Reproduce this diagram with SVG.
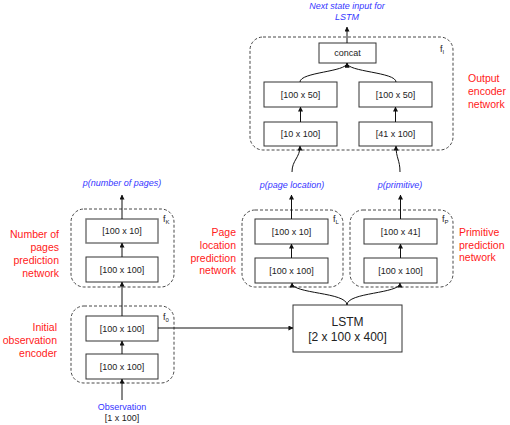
<svg xmlns="http://www.w3.org/2000/svg" width="510" height="425" viewBox="0 0 510 425">
<defs>
<marker id="ah" viewBox="0 0 6 6" refX="5.5" refY="3" markerWidth="5" markerHeight="5" orient="auto" markerUnits="userSpaceOnUse">
<path d="M0,0 L6,3 L0,6 z" fill="#111"/>
</marker>
</defs>
<style>
.grp{fill:none;stroke:#333;stroke-width:0.9;stroke-dasharray:3,2}
.box{fill:#fff;stroke:#333;stroke-width:1}
.bt{font-family:"Liberation Sans",Arial,sans-serif;font-size:9px;fill:#222;text-anchor:middle}
.red{font-family:"Liberation Sans",Arial,sans-serif;font-size:10.5px;fill:#ff2020}
.blue{font-family:"Liberation Sans",Arial,sans-serif;font-size:9px;font-style:italic;fill:#3535ff;text-anchor:middle}
.fl{font-family:"Liberation Sans",Arial,sans-serif;font-size:9px;fill:#222}
.fs{font-size:6px}
.c{fill:none;stroke:#111;stroke-width:1}
</style>
<rect width="510" height="425" fill="#fff"/>

<g id="output-encoder">
<rect class="grp" x="250" y="37" width="203" height="113" rx="13"/>
<text class="fl" x="440" y="52">f<tspan class="fs" dy="2">I</tspan></text>
<text class="red" x="468" y="82">Output</text>
<text class="red" x="468" y="95">encoder</text>
<text class="red" x="468" y="108">network</text>
</g>
<g id="concat"><rect class="box" x="319" y="43" width="57" height="20"/><text class="bt" x="347.5" y="56">concat</text></g>
<g id="enc-l2"><rect class="box" x="264" y="82" width="73" height="25"/><text class="bt" x="300.5" y="98">[100 x 50]</text></g>
<g id="enc-r2"><rect class="box" x="359" y="82" width="73" height="25"/><text class="bt" x="395.5" y="98">[100 x 50]</text></g>
<g id="enc-l1"><rect class="box" x="264" y="122" width="73" height="24"/><text class="bt" x="300.5" y="137">[10 x 100]</text></g>
<g id="enc-r1"><rect class="box" x="359" y="122" width="73" height="24"/><text class="bt" x="395.5" y="137">[41 x 100]</text></g>
<g id="next-state">
<text class="blue" x="347" y="9">Next state input for</text>
<text class="blue" x="347" y="20">LSTM</text>
</g>

<g id="pages-net">
<rect class="grp" x="71" y="209" width="103" height="78" rx="13"/>
<text class="fl" x="163" y="222">f<tspan class="fs" dy="2">K</tspan></text>
<text class="red" x="59" y="238" text-anchor="end">Number of</text>
<text class="red" x="59" y="251" text-anchor="end">pages</text>
<text class="red" x="59" y="264" text-anchor="end">prediction</text>
<text class="red" x="59" y="277" text-anchor="end">network</text>
<text class="blue" x="122" y="186">p(number of pages)</text>
</g>
<g id="pages-l2"><rect class="box" x="86" y="219" width="72" height="24" style="stroke:#777;stroke-width:1.5"/><text class="bt" x="122" y="234">[100 x 10]</text></g>
<g id="pages-l1"><rect class="box" x="86" y="257" width="72" height="25"/><text class="bt" x="122" y="273">[100 x 100]</text></g>

<g id="loc-net">
<rect class="grp" x="242" y="210" width="101" height="77" rx="13"/>
<text class="fl" x="333" y="222">f<tspan class="fs" dy="2">L</tspan></text>
<text class="red" x="236" y="236" text-anchor="end">Page</text>
<text class="red" x="236" y="249" text-anchor="end">location</text>
<text class="red" x="236" y="262" text-anchor="end">prediction</text>
<text class="red" x="236" y="274" text-anchor="end">network</text>
<text class="blue" x="292" y="188">p(page location)</text>
</g>
<g id="loc-l2"><rect class="box" x="255" y="219" width="73" height="25"/><text class="bt" x="291.5" y="235">[100 x 10]</text></g>
<g id="loc-l1"><rect class="box" x="255" y="258" width="73" height="25"/><text class="bt" x="291.5" y="274">[100 x 100]</text></g>

<g id="prim-net">
<rect class="grp" x="350" y="210" width="103" height="77" rx="13"/>
<text class="fl" x="442" y="222">f<tspan class="fs" dy="2">P</tspan></text>
<text class="red" x="459" y="236">Primitive</text>
<text class="red" x="459" y="249">prediction</text>
<text class="red" x="459" y="261">network</text>
<text class="blue" x="400" y="188">p(primitive)</text>
</g>
<g id="prim-l2"><rect class="box" x="364" y="219" width="73" height="25"/><text class="bt" x="400.5" y="235">[100 x 41]</text></g>
<g id="prim-l1"><rect class="box" x="364" y="258" width="73" height="25"/><text class="bt" x="400.5" y="274">[100 x 100]</text></g>

<g id="obs-enc">
<rect class="grp" x="71" y="306" width="103" height="77" rx="13"/>
<text class="fl" x="163" y="320">f<tspan class="fs" dy="2">0</tspan></text>
<text class="red" x="57" y="331" text-anchor="end">Initial</text>
<text class="red" x="57" y="344" text-anchor="end">observation</text>
<text class="red" x="57" y="357" text-anchor="end">encoder</text>
</g>
<g id="obs-l2"><rect class="box" x="86" y="316" width="72" height="25"/><text class="bt" x="122" y="332">[100 x 100]</text></g>
<g id="obs-l1"><rect class="box" x="86" y="354" width="72" height="25"/><text class="bt" x="122" y="370">[100 x 100]</text></g>
<g id="observation">
<text class="blue" x="122" y="410" style="font-style:normal">Observation</text>
<text class="bt" x="122" y="421">[1 x 100]</text>
</g>

<g id="lstm">
<rect class="box" x="293" y="305" width="109" height="47"/>
<text class="bt" x="347.5" y="326" style="font-size:12px">LSTM</text>
<text class="bt" x="347.5" y="341" style="font-size:12px">[2 x 100 x 400]</text>
</g>

<g id="connectors">
<path class="c" d="M122,400 L122,379" marker-end="url(#ah)"/>
<path class="c" d="M122,354 L122,341" marker-end="url(#ah)"/>
<path class="c" d="M122,316 L122,282" marker-end="url(#ah)"/>
<path class="c" d="M122,257 L122,243" marker-end="url(#ah)"/>
<path class="c" d="M122,219 L122,195" marker-end="url(#ah)"/>
<path class="c" d="M158,328 L293,328" marker-end="url(#ah)"/>
<path class="c" d="M347,305 C347,292 292,294 292,283" marker-end="url(#ah)"/>
<path class="c" d="M347,305 C347,292 400,294 400,283" marker-end="url(#ah)"/>
<path class="c" d="M291.5,258 L291.5,244" marker-end="url(#ah)"/>
<path class="c" d="M400.5,258 L400.5,244" marker-end="url(#ah)"/>
<path class="c" d="M291.5,219 L291.5,195" marker-end="url(#ah)"/>
<path class="c" d="M400.5,219 L400.5,195" marker-end="url(#ah)"/>
<path class="c" d="M292,172 C292,160 300,158 300,146" marker-end="url(#ah)"/>
<path class="c" d="M400,172 C400,160 396,158 396,146" marker-end="url(#ah)"/>
<path class="c" d="M300.5,122 L300.5,107" marker-end="url(#ah)"/>
<path class="c" d="M395.5,122 L395.5,107" marker-end="url(#ah)"/>
<path class="c" d="M300,82 C300,72 347,72 347,63" marker-end="url(#ah)"/>
<path class="c" d="M396,82 C396,72 347,72 347,63" marker-end="url(#ah)"/>
<path class="c" d="M347,43 L347,27" marker-end="url(#ah)"/>
</g>
</svg>
